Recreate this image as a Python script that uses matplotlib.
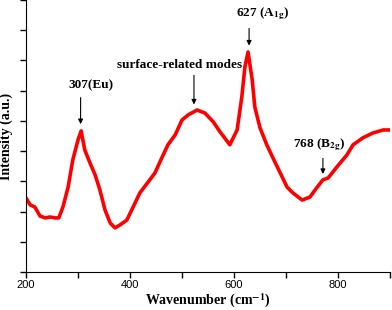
import matplotlib
matplotlib.use("Agg")
import matplotlib.pyplot as plt
from matplotlib.ticker import MultipleLocator, NullFormatter

wavenumber = [200, 208, 217, 227, 237, 246, 256, 263, 271, 281, 290, 300, 306, 313, 323, 333,
              342, 352, 362, 371, 381, 394, 406, 419, 435, 448, 461, 473, 487, 500, 512, 529,
              544, 560, 573, 592, 606, 615, 621, 627, 635, 640, 650, 663, 675, 688, 702, 713,
              731, 746, 760, 771, 781, 798, 817, 829, 848, 867, 887, 900]
intensity = [2.45, 2.22, 2.15, 1.85, 1.79, 1.82, 1.79, 1.79, 2.15, 2.81, 3.71, 4.37, 4.67, 4.04,
             3.61, 3.21, 2.72, 2.05, 1.62, 1.46, 1.56, 1.72, 2.15, 2.62, 2.98, 3.28, 3.77, 4.21,
             4.54, 5.03, 5.20, 5.36, 5.26, 4.97, 4.64, 4.21, 4.70, 5.79, 6.79, 7.28, 6.36, 5.46,
             4.77, 4.21, 3.77, 3.31, 2.81, 2.62, 2.38, 2.48, 2.81, 3.05, 3.11, 3.48, 3.87, 4.21,
             4.44, 4.60, 4.70, 4.70]

# annotations: label, arrow x (wavenumber), arrow tail y, arrow head y, text x, text y (centre)
ann_labels = ["307(Eu)", "surface-related modes", r"627 (A$_{\mathbf{1g}}$)", r"768 (B$_{\mathbf{2g}}$)"]
ann_x = [305, 523, 629, 771]
ann_tail = [5.86, 6.60, 8.15, 3.85]
ann_head = [4.80, 5.45, 7.40, 3.15]
ann_tx = [325, 496, 654, 763]
ann_ty = [6.19, 6.85, 8.55, 4.20]

plt.rcParams['mathtext.fontset'] = 'stix'

fig = plt.figure(figsize=(3.92, 3.10), dpi=100)
ax = fig.add_axes([26/392, 1 - 272/310, (390 - 26)/392, 272/310])
ax.plot(wavenumber, intensity, color='#ff0000', lw=2.6, solid_joinstyle='round')

ax.set_xlim(200, 900)
ax.set_ylim(0, 9)
ax.xaxis.set_major_locator(MultipleLocator(200))
ax.xaxis.set_minor_locator(MultipleLocator(100))
ax.yaxis.set_major_locator(MultipleLocator(1))
ax.yaxis.set_major_formatter(NullFormatter())
ax.tick_params(which='both', direction='out', length=4, width=1)
ax.tick_params(axis='x', labelsize=8, pad=2)
for lab in ax.get_xticklabels():
    lab.set_family('Liberation Sans')
ax.spines['top'].set_visible(False)
ax.spines['right'].set_visible(False)

for lab, x, t, h, tx, ty in zip(ann_labels, ann_x, ann_tail, ann_head, ann_tx, ann_ty):
    ax.annotate('', xy=(x, h), xytext=(x, t),
                arrowprops=dict(arrowstyle='-|>', color='black', lw=0.8, mutation_scale=7))
    ax.text(tx, ty, lab, ha='center', va='center', fontsize=9.5, fontweight='bold',
            family='Liberation Serif')

ax.set_xlabel(r'Wavenumber (cm$^{\mathbf{-1}}$)', fontsize=10, fontweight='bold',
              family='Liberation Serif', labelpad=1)
ax.set_ylabel('Intensity (a.u.)', fontsize=10, fontweight='bold',
              family='Liberation Serif', labelpad=2)

fig.savefig('out.png', dpi=100)
